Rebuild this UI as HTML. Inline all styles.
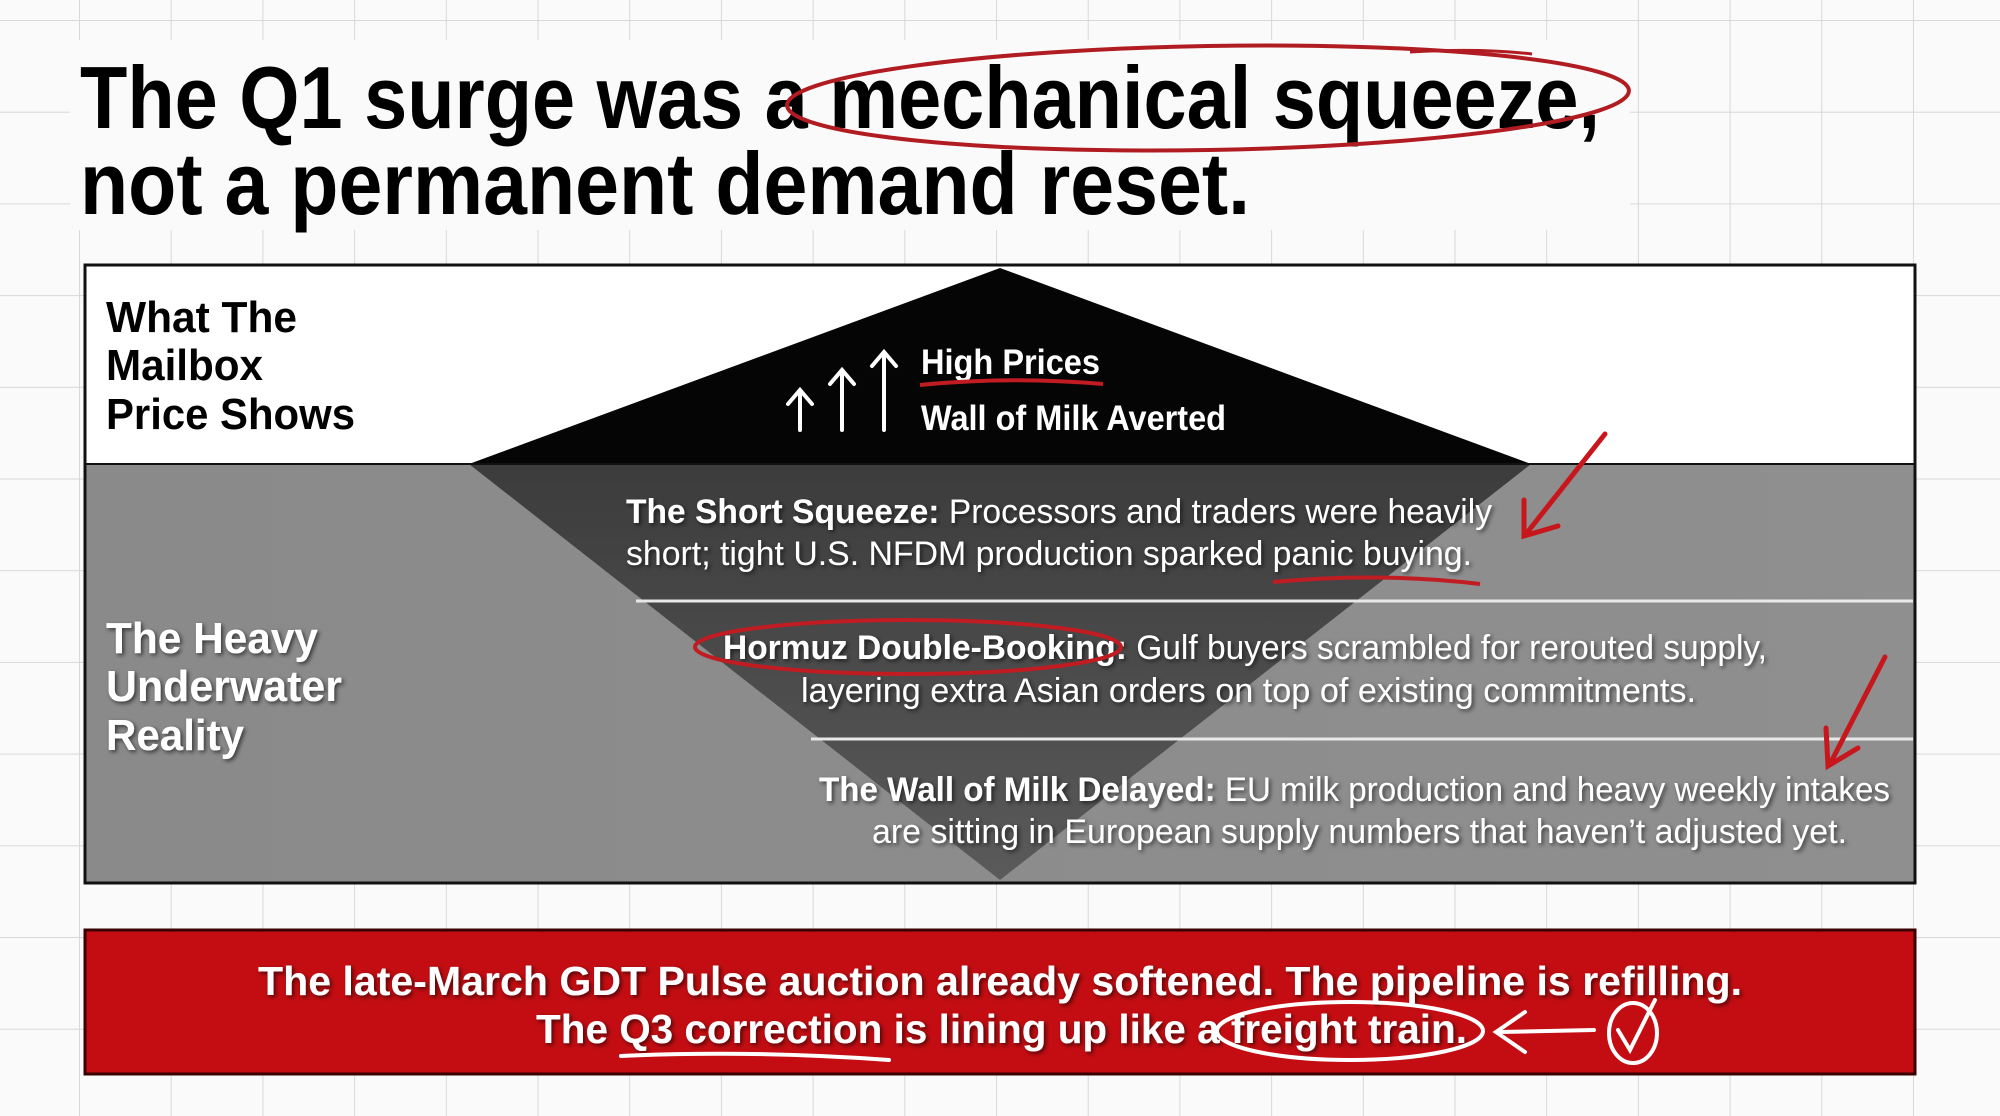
<!DOCTYPE html>
<html><head><meta charset="utf-8"><style>
html,body{margin:0;padding:0;background:#fafafa;}
svg{display:block;font-family:"Liberation Sans",Arial,sans-serif;}
</style></head><body>
<svg width="2000" height="1116" viewBox="0 0 2000 1116" xmlns="http://www.w3.org/2000/svg" font-weight="bold">
<defs>
<pattern id="grid" x="79" y="20" width="91.7" height="91.7" patternUnits="userSpaceOnUse">
<path d="M0 0V91.7M0 0H91.7" stroke="#d8d8d8" stroke-width="2" fill="none"/>
</pattern>
<linearGradient id="tri" x1="0" y1="0" x2="0" y2="1">
<stop offset="0" stop-color="#3c3c3c"/><stop offset="1" stop-color="#5a5a5a"/>
</linearGradient>
<linearGradient id="gray" x1="0" y1="0" x2="1" y2="0">
<stop offset="0" stop-color="#8a8a8a"/><stop offset="1" stop-color="#8f8f8f"/>
</linearGradient>
<filter id="sh"><feDropShadow dx="2" dy="2" stdDeviation="2" flood-color="#000" flood-opacity="0.6"/></filter>
</defs>
<rect width="2000" height="1116" fill="#fafafa"/>
<rect width="2000" height="1116" fill="url(#grid)"/>

<!-- Title -->
<rect x="70" y="40" width="1560" height="190" fill="#fafafa"/>
<text x="80" y="128" font-size="88" fill="#000" textLength="1520" lengthAdjust="spacingAndGlyphs">The Q1 surge was a mechanical squeeze,</text>
<text x="80" y="214" font-size="88" fill="#000" textLength="1170" lengthAdjust="spacingAndGlyphs">not a permanent demand reset.</text>
<ellipse cx="1208" cy="98" rx="421" ry="52" fill="none" stroke="#b01c22" stroke-width="4" transform="rotate(-1 1208 98)"/>
<path d="M1410 52 Q1480 48 1532 54" stroke="#b01c22" stroke-width="3" fill="none"/>

<!-- main box -->
<rect x="85" y="265" width="1830" height="199" fill="#fff"/>
<rect x="85" y="464" width="1830" height="419" fill="url(#gray)"/>
<polygon points="469,464 1531,464 1000,880" fill="url(#tri)"/>
<polygon points="1000,268 1531,464 469,464" fill="#050505"/>
<line x1="636" y1="601" x2="1913" y2="601" stroke="#e8e8e8" stroke-width="3"/>
<line x1="811" y1="739" x2="1913" y2="739" stroke="#e8e8e8" stroke-width="3"/>
<rect x="85" y="265" width="1830" height="618" fill="none" stroke="#111" stroke-width="3"/>
<line x1="85" y1="464" x2="1915" y2="464" stroke="#111" stroke-width="2"/>

<text x="106" y="332" font-size="44" fill="#000" textLength="191" lengthAdjust="spacingAndGlyphs">What The</text>
<text x="106" y="380" font-size="44" fill="#000" textLength="157" lengthAdjust="spacingAndGlyphs">Mailbox</text>
<text x="106" y="429" font-size="44" fill="#000" textLength="249" lengthAdjust="spacingAndGlyphs">Price Shows</text>

<g filter="url(#sh)" fill="#fff">
<text x="106" y="653" font-size="44" textLength="212" lengthAdjust="spacingAndGlyphs">The Heavy</text>
<text x="106" y="701" font-size="44" textLength="236" lengthAdjust="spacingAndGlyphs">Underwater</text>
<text x="106" y="750" font-size="44" textLength="138" lengthAdjust="spacingAndGlyphs">Reality</text>
</g>

<!-- arrows up -->
<g stroke="#fff" stroke-width="4" fill="none" stroke-linecap="round">
<path d="M800 430V392M788 404L800 390L812 404"/>
<path d="M842 430V372M830 384L842 370L854 384"/>
<path d="M884 430V354M872 366L884 352L896 366"/>
</g>
<text x="921" y="374" font-size="35" fill="#fff" textLength="179" lengthAdjust="spacingAndGlyphs">High Prices</text>
<path d="M920 385 Q1010 376 1103 384" stroke="#c01c22" stroke-width="4" fill="none"/>
<text x="921" y="430" font-size="35" fill="#fff" textLength="305" lengthAdjust="spacingAndGlyphs">Wall of Milk Averted</text>

<g fill="#fff" filter="url(#sh)" font-size="34">
<text x="626" y="523" textLength="866" lengthAdjust="spacingAndGlyphs">The Short Squeeze: <tspan font-weight="normal">Processors and traders were heavily</tspan></text>
<text x="626" y="565" font-weight="normal" textLength="846" lengthAdjust="spacingAndGlyphs">short; tight U.S. NFDM production sparked panic buying.</text>
<text x="723" y="659" textLength="1044" lengthAdjust="spacingAndGlyphs">Hormuz Double-Booking: <tspan font-weight="normal">Gulf buyers scrambled for rerouted supply,</tspan></text>
<text x="801" y="702" font-weight="normal" textLength="895" lengthAdjust="spacingAndGlyphs">layering extra Asian orders on top of existing commitments.</text>
<text x="819" y="801" textLength="1071" lengthAdjust="spacingAndGlyphs">The Wall of Milk Delayed: <tspan font-weight="normal">EU milk production and heavy weekly intakes</tspan></text>
<text x="872" y="843" font-weight="normal" textLength="975" lengthAdjust="spacingAndGlyphs">are sitting in European supply numbers that haven’t adjusted yet.</text>
</g>
<path d="M1273 582 Q1380 572 1480 584" stroke="#c01c22" stroke-width="4" fill="none"/>
<ellipse cx="908" cy="647" rx="213" ry="27" fill="none" stroke="#c01c22" stroke-width="4"/>
<g stroke="#c8161d" stroke-width="5" fill="none" stroke-linecap="round">
<path d="M1605 434 L1526 534M1524 500 L1524 536 L1558 526"/>
<path d="M1885 657 L1830 764M1826 728 L1828 766 L1858 748"/>
</g>

<!-- red box -->
<rect x="85" y="930" width="1830" height="144" fill="#c30d12" stroke="#3a0000" stroke-width="3"/>
<g fill="#fff" filter="url(#sh)" font-size="41">
<text x="258" y="995" textLength="1484" lengthAdjust="spacingAndGlyphs">The late-March GDT Pulse auction already softened. The pipeline is refilling.</text>
<text x="536" y="1043" textLength="931" lengthAdjust="spacingAndGlyphs">The Q3 correction is lining up like a freight train.</text>
</g>
<g stroke="#fff" stroke-width="4" fill="none" stroke-linecap="round">
<ellipse cx="1350" cy="1031" rx="133" ry="29"/>
<path d="M621 1056 Q750 1050 889 1060"/>
<path d="M1594 1030 L1500 1032M1525 1012 L1496 1032 L1525 1052"/>
<ellipse cx="1633" cy="1033" rx="24" ry="30"/>
<path d="M1618 1030 L1630 1050 L1655 1000"/>
</g>
</svg>
</body></html>
